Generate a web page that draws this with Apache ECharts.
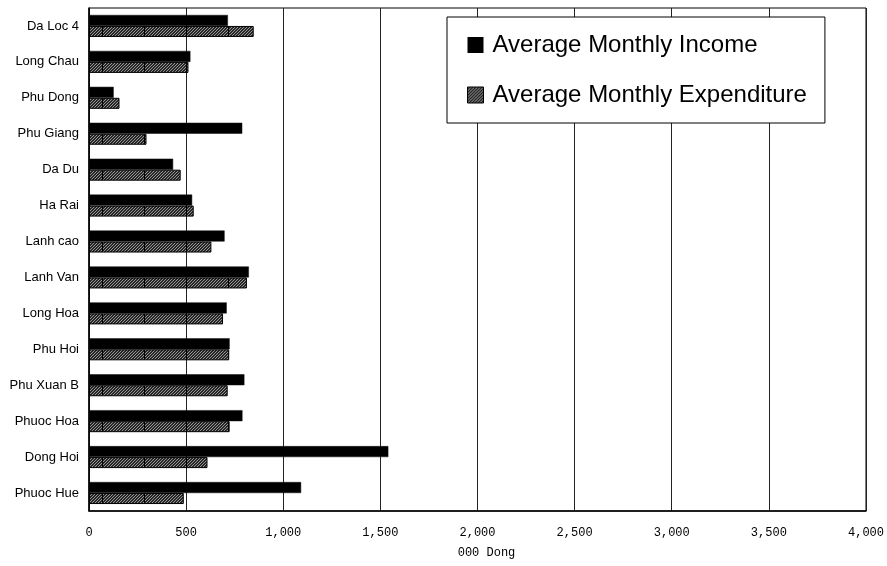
<!DOCTYPE html>
<html>
<head>
<meta charset="utf-8">
<script src="https://cdn.jsdelivr.net/npm/echarts@6/dist/echarts.min.js"></script>
<style>
  html, body { margin: 0; padding: 0; background: #fff; }
  #chart { width: 887px; height: 566px; }
</style>
</head>
<body>
<div id="chart"></div>
<script>
// Communes, listed top to bottom
const communes = [
  'Da Loc 4', 'Long Chau', 'Phu Dong', 'Phu Giang', 'Da Du', 'Ha Rai', 'Lanh cao',
  'Lanh Van', 'Long Hoa', 'Phu Hoi', 'Phu Xuan B', 'Phuoc Hoa', 'Dong Hoi', 'Phuoc Hue'
];

// Average monthly household figures, thousand Dong
const income = [715, 522, 127, 789, 433, 531, 698, 823, 709, 724, 800, 790, 1541, 1092];
const expenditure = [848, 512, 157, 296, 472, 539, 630, 813, 690, 722, 714, 724, 610, 488];

const seriesNames = ['Average Monthly Income', 'Average Monthly Expenditure'];
const xTicks = { min: 0, max: 4000, step: 500 };

// Diagonal hatch fill, optionally with periodic vertical seams
function hatch(withSeam) {
  const w = 42, h = 12;
  const c = document.createElement('canvas');
  c.width = w; c.height = h;
  const ctx = c.getContext('2d');
  const img = ctx.createImageData(w, h);
  for (let y = 0; y < h; y++) {
    for (let x = 0; x < w; x++) {
      let v = ((x + y) % 3 === 0) ? 150 : 38;
      if (withSeam && x === 18) v = 0;
      const i = (y * w + x) * 4;
      img.data[i] = img.data[i + 1] = img.data[i + 2] = v;
      img.data[i + 3] = 255;
    }
  }
  ctx.putImageData(img, 0, 0);
  return { image: c, repeat: 'repeat' };
}

const fmt = v => v >= 1000 ? Math.floor(v / 1000) + ',' + String(v % 1000).padStart(3, '0') : String(v);

const chart = echarts.init(document.getElementById('chart'), null, { renderer: 'canvas' });
chart.setOption({
  animation: false,
  backgroundColor: '#fff',
  grid: {
    left: 89, right: 18, top: 8, bottom: 55,
    show: true, borderColor: '#000', borderWidth: 1, backgroundColor: 'transparent'
  },
  legend: {
    orient: 'vertical',
    left: 447, top: 17,
    padding: [16, 18, 16, 20],
    itemGap: 26,
    itemWidth: 16, itemHeight: 16,
    icon: 'rect',
    backgroundColor: '#fff',
    borderColor: '#000',
    borderWidth: 1,
    textStyle: { fontFamily: 'Liberation Sans, Arial', fontSize: 24, lineHeight: 24, color: '#000', padding: [0, 0, 0, 4] },
    data: [
      { name: seriesNames[0], itemStyle: { color: '#000', borderColor: '#000', borderWidth: 0 } },
      { name: seriesNames[1], itemStyle: { color: hatch(false), borderColor: '#000', borderWidth: 1 } }
    ]
  },
  xAxis: {
    type: 'value',
    min: xTicks.min, max: xTicks.max, interval: xTicks.step,
    name: '000 Dong',
    nameLocation: 'middle',
    nameGap: 36,
    nameTextStyle: { fontFamily: 'Liberation Mono', fontSize: 12, color: '#000', padding: [0, 0, 0, 18] },
    axisLine: { show: true, lineStyle: { color: '#000', width: 1.5 } },
    axisTick: { show: false },
    axisLabel: { formatter: fmt, fontFamily: 'Liberation Mono', fontSize: 12, color: '#000', margin: 16 },
    splitLine: { show: true, lineStyle: { color: '#222', width: 1 } }
  },
  yAxis: {
    type: 'category',
    data: communes,
    inverse: true,
    axisLine: { show: true, lineStyle: { color: '#000', width: 1.5 } },
    axisTick: { show: false },
    axisLabel: { fontFamily: 'Liberation Sans, Arial', fontSize: 13, color: '#000', margin: 10 },
    splitLine: { show: false }
  },
  series: [
    {
      name: seriesNames[0],
      type: 'bar',
      data: income,
      barWidth: 11,
      barGap: '0%',
      itemStyle: { color: '#000', borderColor: '#111', borderWidth: 0.5 }
    },
    {
      name: seriesNames[1],
      type: 'bar',
      data: expenditure,
      barWidth: 11,
      itemStyle: { color: hatch(true), borderColor: '#000', borderWidth: 1 }
    }
  ]
});
</script>
</body>
</html>
